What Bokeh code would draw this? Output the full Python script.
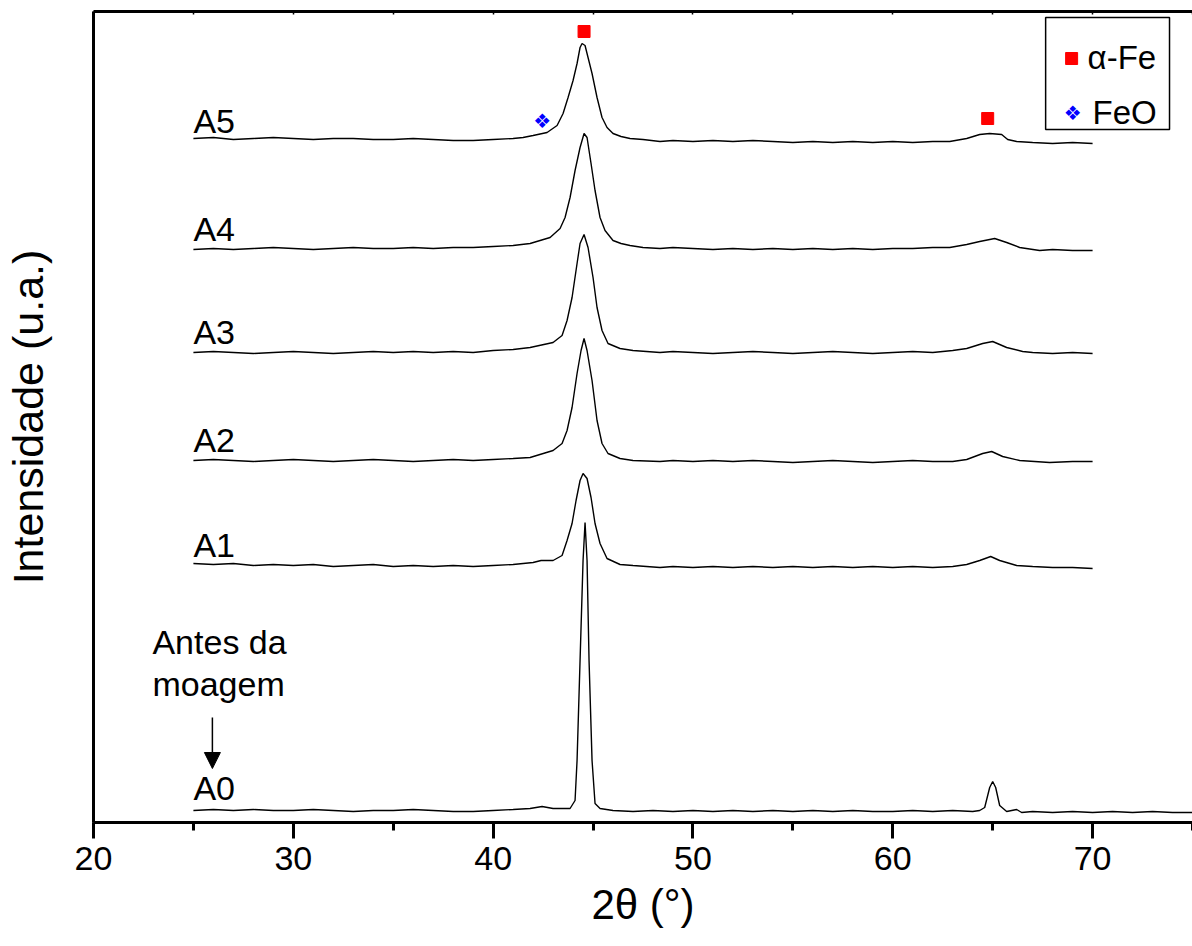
from bokeh.plotting import figure
from bokeh.models import (Range1d, LinearAxis, SingleIntervalTicker, FixedTicker,
                          Arrow, NormalHead)
from bokeh.core.properties import value
from bokeh.embed import file_html
from bokeh.resources import INLINE

# ---------------- data (arbitrary intensity units) -------------
a0_x = [25, 26, 27, 28, 29, 30, 31, 32, 33, 34, 35, 36, 37, 38, 39, 40, 41, 41.85, 42.45, 43.0, 43.85,
        44.1, 44.2, 44.35, 44.5, 44.6, 44.7, 44.8, 44.95, 45.1, 45.35, 46, 47, 48, 49, 50, 51, 52, 53, 54,
        55, 56, 57, 58, 59, 60, 61, 62, 63, 64, 64.35, 64.6, 64.85, 65.0, 65.15, 65.35, 65.7, 66.2, 66.45,
        67, 68, 69, 70, 71, 72, 73, 74, 75]
a0_y = [12, 13, 12, 13, 12, 12, 13, 12, 11, 12, 12, 13, 12, 11, 11, 12, 13, 14, 16, 14, 14,
        22, 62, 162, 262, 300, 262, 162, 62, 19, 14, 12, 11, 12, 11, 12, 11, 12, 11, 12,
        11, 12, 11, 12, 11, 11, 12, 11, 12, 11, 12, 15, 35, 41, 35, 17, 11, 13, 10,
        11, 10, 11, 10, 11, 10, 11, 10, 10]

a1_x = [25, 26, 27, 28, 29, 30, 31, 32, 33, 34, 35, 36, 37, 38, 39, 40, 41, 42, 42.4, 43.0, 43.45,
        43.7, 43.95, 44.15, 44.35, 44.5, 44.7, 44.9, 45.1, 45.35, 45.7, 46.35, 47, 48.35, 49, 50, 51, 52,
        53, 54, 55, 56, 57, 58, 59, 60, 61, 62, 63, 63.7, 64.35, 64.9, 65.35, 66.2, 67, 68, 69, 70]
a1_y = [259, 258, 259, 257, 258, 257, 258, 256, 257, 258, 256, 257, 256, 257, 256, 257, 258, 260, 262, 262, 267,
        282, 299, 322, 342, 349, 344, 325, 299, 279, 264, 258, 257, 255, 256, 255, 256, 255,
        256, 255, 256, 255, 256, 255, 256, 255, 256, 255, 256, 258, 262, 266, 262, 257, 256, 255, 255, 254]

a2_x = [25, 26, 27, 28, 29, 30, 31, 32, 33, 34, 35, 36, 37, 38, 39, 40, 41, 41.85, 43.0, 43.45,
        43.7, 43.95, 44.2, 44.4, 44.55, 44.7, 44.95, 45.2, 45.45, 45.75, 46.35, 47, 48.35, 49, 50, 51, 52,
        53, 54, 55, 56, 57, 58, 59, 60, 61, 62, 63, 63.7, 64.5, 64.95, 65.5, 66.35, 67.85, 69, 70]
a2_y = [362, 363, 362, 361, 362, 363, 362, 361, 362, 363, 362, 361, 362, 363, 362, 363, 364, 365, 372, 379,
        392, 415, 449, 472, 484, 472, 442, 402, 379, 369, 364, 362, 361, 362, 361, 362, 361,
        362, 361, 360, 361, 362, 361, 360, 361, 362, 361, 361, 363, 369, 371, 366, 362, 360, 361, 361]

a3_x = [25, 26, 27, 28, 29, 30, 31, 32, 33, 34, 35, 36, 37, 38, 39, 40, 41, 41.85, 43.0, 43.45,
        43.7, 43.95, 44.2, 44.35, 44.55, 44.75, 45.0, 45.2, 45.45, 45.75, 46.35, 47, 48.35, 49, 50, 51, 52,
        53, 54, 55, 56, 57, 58, 59, 60, 61, 62, 63, 63.7, 64.5, 65.0, 65.7, 66.5, 67, 68, 69, 70]
a3_y = [470, 471, 470, 469, 470, 471, 470, 469, 470, 471, 470, 471, 470, 471, 470, 472, 473, 475, 480, 487,
        502, 525, 559, 579, 588, 575, 545, 515, 492, 479, 474, 472, 470, 471, 470, 469, 470,
        471, 470, 469, 470, 471, 470, 469, 470, 471, 470, 472, 474, 479, 481, 475, 471, 470, 469, 470, 469]

a4_x = [25, 26, 27, 28, 29, 30, 31, 32, 33, 34, 35, 36, 37, 38, 39, 40, 41, 41.85, 42.85, 43.35,
        43.6, 43.85, 44.1, 44.35, 44.55, 44.7, 44.9, 45.1, 45.35, 45.6, 46.0, 46.4, 46.85, 47.5, 48.35, 49,
        50, 51, 52, 53, 54, 55, 56, 57, 58, 59, 60, 61, 62, 62.85, 63.7, 64.35, 65.1, 65.7, 66.35, 67.35,
        68, 69, 70]
a4_y = [573, 574, 573, 574, 575, 574, 573, 574, 575, 574, 574, 575, 574, 575, 575, 576, 577, 579, 585, 594,
        605, 625, 652, 675, 689, 685, 659, 632, 605, 592, 582, 579, 577, 575, 574, 575,
        574, 573, 574, 573, 574, 573, 574, 573, 574, 573, 574, 574, 575, 575, 578, 581, 584, 580, 575, 572,
        573, 572, 572]

a5_x = [25, 26, 27, 28, 29, 30, 31, 32, 33, 34, 35, 36, 37, 38, 39, 40, 41, 41.5, 42, 42.7, 43.2,
        43.5, 43.75, 44.0, 44.2, 44.35, 44.45, 44.6, 44.75, 44.95, 45.2, 45.45, 45.7, 46.0, 46.4, 46.85,
        47.5, 48.35, 49, 50, 51, 52, 53, 54, 55, 56, 57, 58, 59, 60, 61, 62, 62.85, 63.7, 64.35, 64.85,
        65.45, 65.75, 66.2, 67, 68, 69, 70]
a5_y = [684, 685, 683, 684, 685, 684, 683, 684, 684, 683, 683, 684, 683, 682, 682, 683, 684, 685, 687, 690, 697,
        709, 725, 742, 759, 775, 779, 777, 765, 749, 725, 705, 695, 689, 686, 684,
        683, 681, 682, 681, 682, 681, 682, 681, 680, 681, 680, 681, 680, 681, 680, 681, 681, 684, 688, 689,
        688, 683, 681, 680, 679, 680, 679]

series_x = [a0_x, a1_x, a2_x, a3_x, a4_x, a5_x]
series_y = [a0_y, a1_y, a2_y, a3_y, a4_y, a5_y]
series_names = ["A0", "A1", "A2", "A3", "A4", "A5"]
label_x = [25, 25, 25, 25, 25, 25]
label_y = [35, 278, 383, 491, 594, 702]

fe_x = [44.55, 64.75]          # alpha-Fe markers
fe_y = [791, 704]
feo_x = [42.45]                # FeO marker
feo_y = [702]

top_minor_ticks = [20, 25, 30, 35, 40, 45, 50, 55, 60, 65, 70, 75]

FONT = "Liberation Sans"

p = figure(width=1192, height=946, output_backend="svg", toolbar_location=None,
           x_range=Range1d(20, 75), y_range=Range1d(0, 811),
           min_border_left=93, min_border_right=0, min_border_top=11, min_border_bottom=124)
p.outline_line_color = None
p.grid.visible = False
p.background_fill_color = "white"
p.border_fill_color = "white"

# bottom axis
xa = p.xaxis[0]
xa.ticker = SingleIntervalTicker(interval=10, num_minor_ticks=2)
xa.axis_line_width = 3
xa.major_tick_line_width = 3
xa.minor_tick_line_width = 3
xa.major_tick_out = 16
xa.major_tick_in = 0
xa.minor_tick_out = 8
xa.minor_tick_in = 0
xa.major_label_standoff = 8
xa.major_label_text_font = FONT
xa.major_label_text_font_size = "34px"
xa.major_label_text_color = "black"
xa.axis_label = "2θ (°)"
xa.axis_label_text_font = FONT
xa.axis_label_text_font_size = "42px"
xa.axis_label_text_font_style = "normal"
xa.axis_label_text_color = "black"
xa.axis_label_standoff = 8

# left axis
ya = p.yaxis[0]
ya.ticker = FixedTicker(ticks=[])
ya.axis_line_width = 3
ya.major_tick_out = 0
ya.minor_tick_out = 0
ya.major_label_text_font_size = "0px"
ya.axis_label = "Intensidade (u.a.)"
ya.axis_label_text_font = FONT
ya.axis_label_text_font_size = "43px"
ya.axis_label_text_font_style = "normal"
ya.axis_label_text_color = "black"
ya.axis_label_standoff = 42

# top axis: frame line with small inward ticks, no labels
top = LinearAxis(ticker=FixedTicker(ticks=[], minor_ticks=top_minor_ticks),
                 axis_line_width=3, major_tick_in=0, major_tick_out=0,
                 minor_tick_in=3, minor_tick_out=0, minor_tick_line_width=1.5,
                 major_label_standoff=0)
p.add_layout(top, "above")

for xs, ys in zip(series_x, series_y):
    p.line(xs, ys, line_color="black", line_width=1.4)

p.text(x=label_x, y=label_y, text=series_names, text_font=value(FONT), text_font_size="34px",
       text_align="left", text_baseline="alphabetic", text_color="black")

p.scatter(fe_x, fe_y, marker="square", size=12, fill_color="#ff0000", line_color="#ff0000")
p.text(x=feo_x, y=feo_y, text=["❖"], text_font=value("DejaVu Sans"), text_font_size="20px",
       text_align="center", text_baseline="middle", text_color="#0000ff")

# annotation "Antes da moagem"
p.text(x=[22.95, 22.95], y=[181, 139], text=["Antes da", "moagem"], text_font=value(FONT),
       text_font_size="34px", text_align="left", text_baseline="alphabetic", text_color="black")
p.add_layout(Arrow(end=NormalHead(size=16, fill_color="black", line_color="black"),
                   x_start=25.95, y_start=105, x_end=25.95, y_end=54,
                   line_width=1.5, line_color="black"))

# legend box
p.quad(left=[67.65], right=[73.85], bottom=[693], top=[805], fill_color="white",
       line_color="black", line_width=1.5)
p.scatter([68.95], [764], marker="square", size=12, fill_color="#ff0000", line_color="#ff0000")
p.text(x=[69.0], y=[710], text=["❖"], text_font=value("DejaVu Sans"), text_font_size="20px",
       text_align="center", text_baseline="middle", text_color="#0000ff")
p.text(x=[69.75, 70.0], y=[765, 710], text=["α-Fe", "FeO"], text_font=value(FONT),
       text_font_size="33px", text_align="left", text_baseline="middle", text_color="black")

open("out.html", "w").write(file_html(p, INLINE))
